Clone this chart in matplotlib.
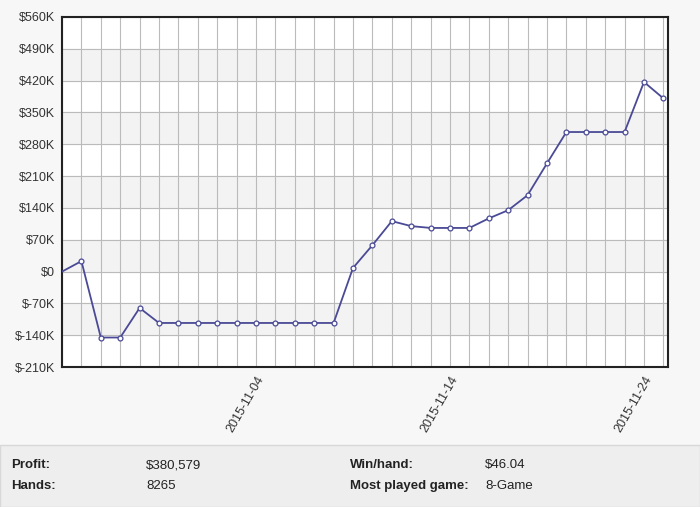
import matplotlib.pyplot as plt
import matplotlib.dates as mdates
from datetime import date, timedelta

plt.rcParams['font.family'] = ['Liberation Sans', 'DejaVu Sans']

# daily cumulative profit, 2015-10-25 .. 2015-11-25 (in $K)
start = date(2015, 10, 25)
profit_k = [0, 23, -145, -145, -80, -113, -113, -113, -113, -113, -113,
            -113, -113, -113, -113, 8, 58, 111, 100, 96, 96, 96, 117, 135,
            168, 238, 307, 307, 307, 307, 417, 381]
days = [start + timedelta(days=i) for i in range(len(profit_k))]
y_ticks = list(range(-210, 561, 70))
x_ticks = [date(2015, 11, 4), date(2015, 11, 14), date(2015, 11, 24)]
stats_left = [("Profit:", "$380,579"), ("Hands:", "8265")]
stats_right = [("Win/hand:", "$46.04"), ("Most played game:", "8-Game")]

fig = plt.figure(figsize=(7, 5.07), dpi=100, facecolor='#f7f7f7')
ax = fig.add_axes([0.0886, 0.276, 0.866, 0.6905])
ax.set_facecolor('white')

x = mdates.date2num(days)
# alternating horizontal bands
for i, lo in enumerate(y_ticks[:-1]):
    if i % 2 == 1:
        ax.axhspan(lo, lo + 70, color='#f3f3f3', zorder=0)
for d in x:
    ax.axvline(d, color='#bbbbbb', lw=0.8, zorder=1)
for t in y_ticks:
    ax.axhline(t, color='#bbbbbb', lw=0.8, zorder=1)

ax.plot(x, profit_k, color='#4a4a96', lw=1.3, zorder=3)
ax.plot(x[1:], profit_k[1:], 'o', ms=3.5, mfc='white', mec='#4a4a96', mew=0.9, zorder=4)

ax.set_xlim(x[0], x[-1] + 0.25)
ax.set_ylim(-210, 560)
ax.set_yticks(y_ticks)
ax.set_yticklabels([f"${v}K" if v != 0 else "$0" for v in y_ticks])
ax.set_xticks(mdates.date2num(x_ticks))
ax.set_xticklabels([d.strftime('%Y-%m-%d') for d in x_ticks], rotation=60, ha='right',
                   rotation_mode='anchor')
ax.tick_params(length=0, labelsize=9, colors='#333333', pad=5)
for s in ax.spines.values():
    s.set_color('#222222')
    s.set_linewidth(1.5)

# footer with stats
fig.patches.append(plt.Rectangle((0, 0), 1, 62 / 507, transform=fig.transFigure,
                                 facecolor='#eeeeee', edgecolor='#d8d8d8', lw=1))
for i, (k, v) in enumerate(stats_left):
    yy = 1 - (465 + i * 21) / 507
    fig.text(0.016, yy, k, fontweight='bold', fontsize=9.5, va='center', color='#222222')
    fig.text(0.209, yy, v, fontsize=9.5, va='center', color='#222222')
for i, (k, v) in enumerate(stats_right):
    yy = 1 - (465 + i * 21) / 507
    fig.text(0.50, yy, k, fontweight='bold', fontsize=9.5, va='center', color='#222222')
    fig.text(0.693, yy, v, fontsize=9.5, va='center', color='#222222')

fig.savefig('out.png', dpi=100, facecolor=fig.get_facecolor())
